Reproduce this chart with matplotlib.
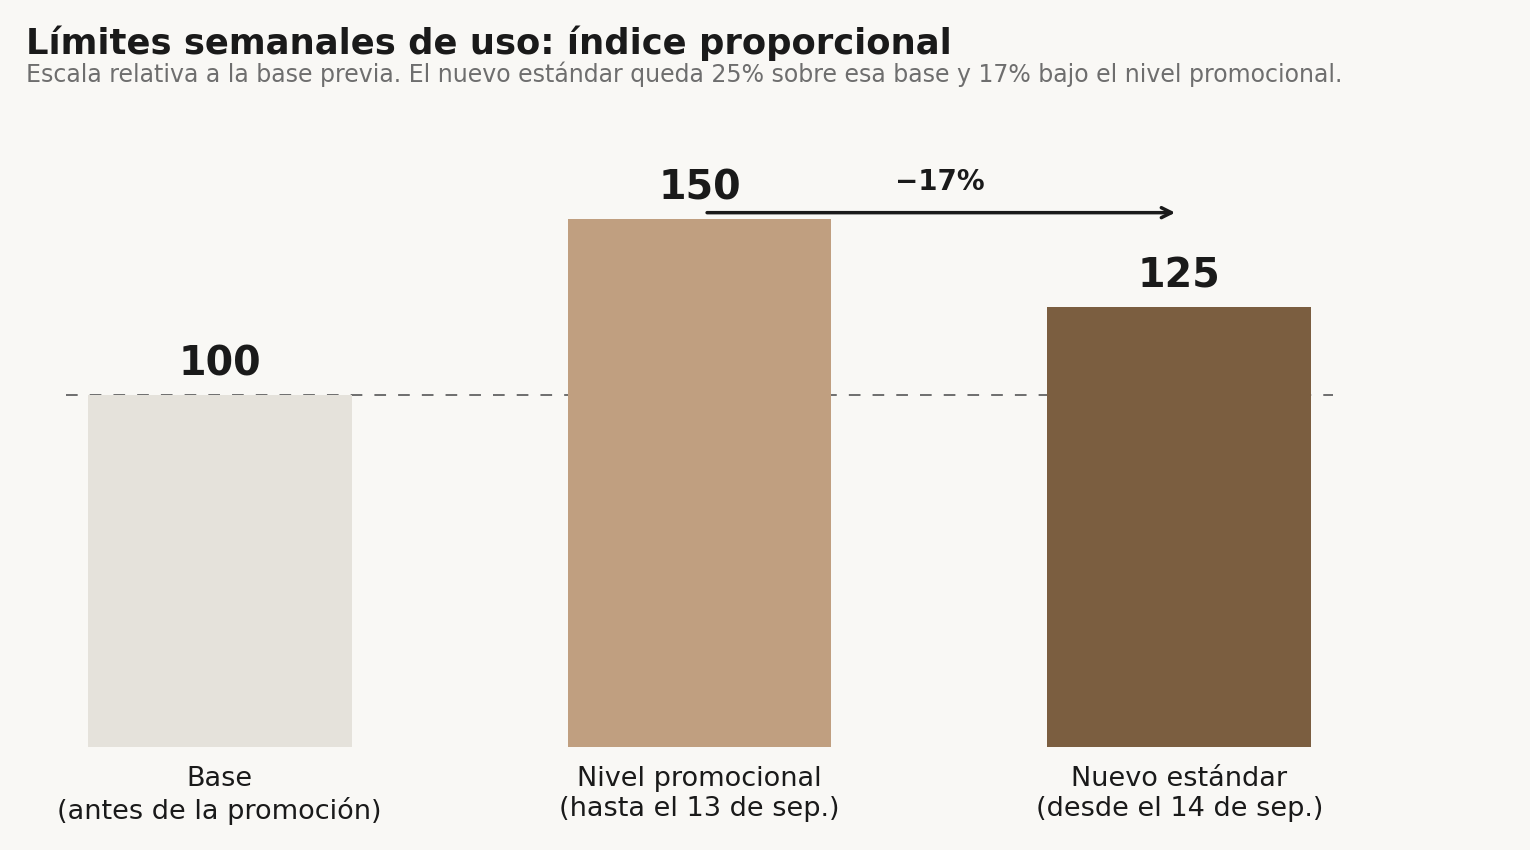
import matplotlib
matplotlib.use("Agg")
import matplotlib.pyplot as plt

# datos
categorias = ["Base\n(antes de la promoción)",
              "Nivel promocional\n(hasta el 13 de sep.)",
              "Nuevo estándar\n(desde el 14 de sep.)"]
valores = [100, 150, 125]
colores = ["#E5E2DB", "#C09F80", "#7B5E40"]
cambio_txt = "−17%"

fondo = "#F9F8F5"
oscuro = "#1A1A1A"

fig = plt.figure(figsize=(15.3, 8.5), dpi=100, facecolor=fondo)
ax = fig.add_axes([66/1530, 1-747/850, (1333-66)/1530, (747-131)/850])
ax.set_facecolor(fondo)

x = list(range(len(valores)))
ax.bar(x, valores, width=0.55, color=colores, zorder=2)
ax.axhline(valores[0], color="#6E6E6E", lw=1.4, ls=(0, (6, 6.2)), zorder=1)

for xi, v in zip(x, valores):
    ax.text(xi, v + 2.9, str(v), ha="center", va="bottom",
            fontsize=28.5, fontweight="bold", color=oscuro)

# flecha promo -> nuevo
y_flecha = valores[1] + 1.8
ax.annotate("", xy=(x[2] - 0.003, y_flecha), xytext=(x[1] + 0.01, y_flecha),
            arrowprops=dict(arrowstyle="->", color=oscuro, lw=2.5,
                            mutation_scale=18))
ax.text((x[1] + x[2]) / 2, y_flecha + 4.6, cambio_txt, ha="center",
        va="bottom", fontsize=20, fontweight="bold", color=oscuro)

ax.set_xlim(-0.32, 2.32)
ax.set_ylim(0, 175)
ax.set_xticks(x)
ax.set_xticklabels(categorias, fontsize=19.5, color=oscuro)
ax.tick_params(axis="x", length=0, pad=14)
ax.set_yticks([])
for s in ax.spines.values():
    s.set_visible(False)

fig.text(26/1530, 1-43/850, "Límites semanales de uso: índice proporcional",
         fontsize=25.5, fontweight="bold", color=oscuro, va="center")
fig.text(26/1530, 1-74/850,
         "Escala relativa a la base previa. El nuevo estándar queda 25% sobre esa base y 17% bajo el nivel promocional.",
         fontsize=17, color="#6E6E6E", va="center")

fig.savefig("out.png", dpi=100, facecolor=fondo)
